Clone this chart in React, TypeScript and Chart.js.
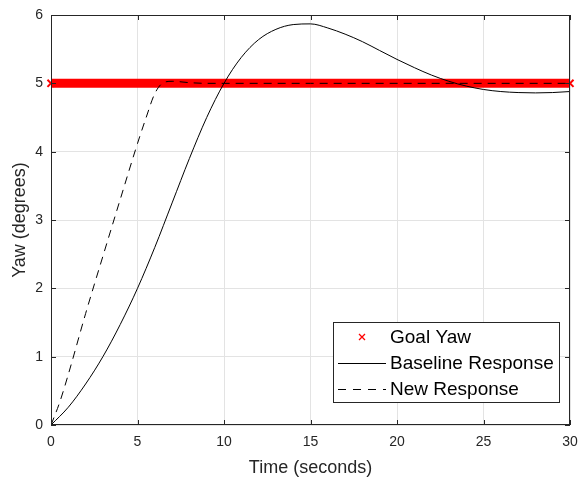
import React, { useEffect, useRef } from "react";
import { Chart, registerables } from "chart.js";

Chart.register(...registerables);

const xTickValues = [0, 5, 10, 15, 20, 25, 30];
const yTickValues = [0, 1, 2, 3, 4, 5, 6];

const goalTime = [0, 30];
const goalYaw = [5, 5];

const baseTime = [0, 1, 2, 3, 4, 5, 6, 7, 8, 9, 10, 11, 12, 13, 14, 15, 16, 17, 18, 19, 20, 21, 22, 23, 24, 25, 26, 27, 28, 29, 30];
const baseYaw = [0, 0.26, 0.6, 1.0, 1.47, 2.0, 2.6, 3.25, 3.9, 4.5, 5.0, 5.38, 5.64, 5.79, 5.86, 5.87, 5.81, 5.72, 5.61, 5.48, 5.35, 5.23, 5.12, 5.03, 4.96, 4.91, 4.88, 4.865, 4.86, 4.865, 4.88];

const newTime = [0, 0.5, 1, 2, 3, 4, 5, 5.5, 6, 6.5, 7, 8, 9, 10, 15, 20, 25, 30];
const newYaw = [0, 0.33, 0.74, 1.63, 2.47, 3.3, 4.12, 4.5, 4.85, 5.01, 5.03, 5.01, 5.0, 5.0, 5.0, 5.0, 5.0, 5.0];

const legendLabels = ["Goal Yaw", "Baseline Response", "New Response"];
const xTitle = "Time (seconds)";
const yTitle = "Yaw (degrees)";

const FONT = "'Liberation Sans', Arial, Helvetica, sans-serif";
const TXT = "#262626";

export default function App() {
  const ref = useRef<HTMLCanvasElement | null>(null);

  useEffect(() => {
    document.body.style.margin = "0";
    const canvas = ref.current;
    if (!canvas) return;

    const framePlugin = {
      id: "frame",
      afterDraw(chart: any) {
        const { ctx, chartArea: a } = chart;
        ctx.save();
        ctx.strokeStyle = TXT;
        ctx.lineWidth = 1;
        ctx.strokeRect(a.left + 0.5, a.top + 0.5, a.right - a.left - 1, a.bottom - a.top - 1);
        const xs = chart.scales.x;
        const ys = chart.scales.y;
        ctx.beginPath();
        xTickValues.forEach((v) => {
          const px = Math.round(xs.getPixelForValue(v)) + 0.5;
          ctx.moveTo(px, a.bottom);
          ctx.lineTo(px, a.bottom - 5);
          ctx.moveTo(px, a.top);
          ctx.lineTo(px, a.top + 5);
        });
        yTickValues.forEach((v) => {
          const py = Math.round(ys.getPixelForValue(v)) + 0.5;
          ctx.moveTo(a.left, py);
          ctx.lineTo(a.left + 5, py);
          ctx.moveTo(a.right, py);
          ctx.lineTo(a.right - 5, py);
        });
        ctx.stroke();

        // axis titles
        ctx.fillStyle = TXT;
        ctx.font = `18px ${FONT}`;
        ctx.textAlign = "center";
        ctx.textBaseline = "middle";
        ctx.fillText(xTitle, (a.left + a.right) / 2, 468);
        ctx.save();
        ctx.translate(20, (a.top + a.bottom) / 2);
        ctx.rotate(-Math.PI / 2);
        ctx.fillText(yTitle, 0, 0);
        ctx.restore();

        // legend
        const bw = 226;
        const bh = 80;
        const bx = a.right - 11 - bw;
        const by = a.bottom - 23 - bh;
        ctx.fillStyle = "#ffffff";
        ctx.fillRect(bx, by, bw, bh);
        ctx.strokeStyle = TXT;
        ctx.strokeRect(bx + 0.5, by + 0.5, bw, bh);
        ctx.font = `19px ${FONT}`;
        ctx.textBaseline = "middle";
        ctx.textAlign = "left";
        const rows = [by + 15, by + 41, by + 67];
        ctx.strokeStyle = "#ff0000";
        ctx.lineWidth = 1.3;
        const cx = bx + 29;
        ctx.beginPath();
        ctx.moveTo(cx - 3, rows[0] - 3);
        ctx.lineTo(cx + 3, rows[0] + 3);
        ctx.moveTo(cx + 3, rows[0] - 3);
        ctx.lineTo(cx - 3, rows[0] + 3);
        ctx.stroke();
        ctx.strokeStyle = "#000000";
        ctx.lineWidth = 1;
        ctx.beginPath();
        ctx.moveTo(bx + 5, rows[1] + 0.5);
        ctx.lineTo(bx + 53, rows[1] + 0.5);
        ctx.stroke();
        ctx.setLineDash([8, 7]);
        ctx.beginPath();
        ctx.moveTo(bx + 5, rows[2] + 0.5);
        ctx.lineTo(bx + 53, rows[2] + 0.5);
        ctx.stroke();
        ctx.setLineDash([]);
        ctx.fillStyle = "#000000";
        legendLabels.forEach((t, i) => ctx.fillText(t, bx + 57, rows[i] + 1));
        ctx.restore();
      },
    };

    const chart = new Chart(canvas, {
      type: "line",
      data: {
        datasets: [
          {
            label: legendLabels[0],
            data: goalTime.map((x, i) => ({ x, y: goalYaw[i] })),
            borderColor: "#ff0000",
            borderWidth: 9,
            pointRadius: 5,
            pointStyle: "crossRot",
            pointBorderColor: "#ff0000",
            pointBorderWidth: 2,
            clip: 8,
            order: 3,
          },
          {
            label: legendLabels[1],
            data: baseTime.map((x, i) => ({ x, y: baseYaw[i] })),
            borderColor: "#000000",
            borderWidth: 1,
            pointRadius: 0,
            cubicInterpolationMode: "monotone",
            order: 2,
          },
          {
            label: legendLabels[2],
            data: newTime.map((x, i) => ({ x, y: newYaw[i] })),
            borderColor: "#000000",
            borderWidth: 1,
            borderDash: [8, 6],
            pointRadius: 0,
            cubicInterpolationMode: "monotone",
            order: 1,
          },
        ],
      },
      options: {
        animation: false,
        responsive: false,
        devicePixelRatio: 1,
        layout: { padding: { top: 15, right: 9, left: 0, bottom: 0 } },
        plugins: { legend: { display: false }, tooltip: { enabled: false } },
        scales: {
          x: {
            type: "linear",
            min: 0,
            max: 30,
            afterBuildTicks: (s: any) => {
              s.ticks = xTickValues.map((v) => ({ value: v }));
            },
            afterFit: (s: any) => {
              s.height = 55;
              s.paddingLeft = 0;
              s.paddingRight = 0;
            },
            grid: { color: "#e3e3e3", drawTicks: false },
            border: { display: false },
            ticks: { color: TXT, font: { family: FONT, size: 14 }, padding: 9, maxRotation: 0 },
          },
          y: {
            type: "linear",
            min: 0,
            max: 6,
            afterBuildTicks: (s: any) => {
              s.ticks = yTickValues.map((v) => ({ value: v }));
            },
            afterFit: (s: any) => {
              s.width = 51;
              s.paddingTop = 0;
              s.paddingBottom = 0;
            },
            grid: { color: "#e3e3e3", drawTicks: false },
            border: { display: false },
            ticks: { color: TXT, font: { family: FONT, size: 14 }, padding: 8 },
          },
        },
      },
      plugins: [framePlugin],
    });
    return () => chart.destroy();
  }, []);

  return (
    <div style={{ position: "absolute", left: 0, top: 0, width: 579, height: 480, background: "#fff" }}>
      <canvas ref={ref} width={579} height={480} style={{ width: 579, height: 480, display: "block" }} />
    </div>
  );
}
